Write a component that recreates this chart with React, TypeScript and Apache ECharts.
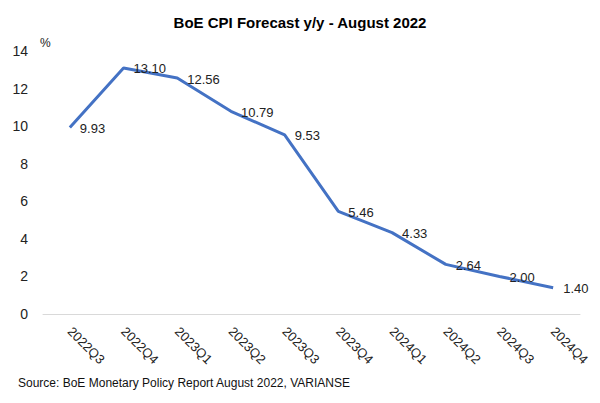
import React, { useEffect, useRef } from "react";
import * as echarts from "echarts";

const categories = ["2022Q3", "2022Q4", "2023Q1", "2023Q2", "2023Q3", "2023Q4", "2024Q1", "2024Q2", "2024Q3", "2024Q4"];
const cpiValues = [9.93, 13.1, 12.56, 10.79, 9.53, 5.46, 4.33, 2.64, 2.0, 1.4];
const titleText = "BoE CPI Forecast y/y - August 2022";
const sourceText = "Source: BoE Monetary Policy Report August 2022, VARIANSE";
const unitText = "%";

export default function App() {
  const ref = useRef<HTMLDivElement>(null);
  useEffect(() => {
    if (!ref.current) return;
    const chart = echarts.init(ref.current, undefined, { renderer: "svg" });
    const font = "Liberation Sans, Arial, sans-serif";
    chart.setOption({
      animation: false,
      backgroundColor: "#ffffff",
      textStyle: { fontFamily: font },
      title: {
        text: titleText,
        left: "center",
        top: 10,
        textStyle: { fontSize: 15, fontWeight: "bold", color: "#000", fontFamily: font },
      },
      graphic: [
        { type: "text", left: 40, top: 37, style: { text: unitText, fontSize: 12, fill: "#222", fontFamily: font } },
        { type: "text", left: 18, top: 377, style: { text: sourceText, fontSize: 12, fill: "#111", fontFamily: font } },
      ],
      grid: { left: 43, right: 20, top: 51, bottom: 89 },
      xAxis: {
        type: "category",
        data: categories,
        boundaryGap: true,
        axisLine: { show: true, lineStyle: { color: "#d9d9d9", width: 1 } },
        axisTick: { show: false },
        axisLabel: { rotate: -45, fontSize: 13, color: "#222", margin: 15, fontFamily: font },
      },
      yAxis: {
        type: "value",
        min: 0,
        max: 14,
        interval: 2,
        axisLine: { show: false },
        axisTick: { show: false },
        splitLine: { show: false },
        axisLabel: { fontSize: 14, color: "#222", margin: 15, fontFamily: font },
      },
      series: [
        {
          type: "line",
          data: cpiValues,
          symbol: "circle",
          symbolSize: 0,
          showSymbol: true,
          lineStyle: { color: "#4472C4", width: 3 },
          itemStyle: { color: "#4472C4" },
          label: {
            show: true,
            position: "right",
            distance: 10,
            offset: [0, 1],
            fontSize: 13,
            color: "#222",
            fontFamily: font,
            formatter: (p: any) => Number(p.value).toFixed(2),
          },
        },
      ],
    });
    return () => chart.dispose();
  }, []);
  return <div ref={ref} style={{ width: 600, height: 403, position: "absolute", left: 0, top: 0 }} />;
}
